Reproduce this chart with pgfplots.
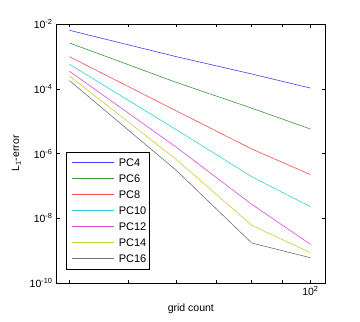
\documentclass[border=0pt]{standalone}
\usepackage{fontspec}
\setmainfont{Liberation Sans}
\usepackage{pgfplots}
\pgfplotsset{compat=1.18}
\definecolor{pcA}{rgb}{0.25,0.25,1}
\definecolor{pcB}{rgb}{0.22,0.6,0.22}
\definecolor{pcC}{rgb}{1,0.3,0.3}
\definecolor{pcD}{rgb}{0.2,0.82,0.82}
\definecolor{pcE}{rgb}{0.85,0.3,0.85}
\definecolor{pcF}{rgb}{0.8,0.8,0.2}
\definecolor{pcG}{rgb}{0.45,0.45,0.45}
\newcommand{\legent}[2]{\hspace{3pt}\textcolor{#1}{\rule[3.4pt]{42pt}{0.9pt}}\hspace{4.5pt}#2\hspace{6pt}}
\begin{document}
\begin{tikzpicture}
\useasboundingbox (0pt,0pt) rectangle (360pt,322pt);
\begin{axis}[
  at={(56pt,39pt)}, anchor=south west,
  scale only axis, width=269.7pt, height=259pt,
  xmode=log, ymode=log,
  xmin=38, xmax=106, ymin=1e-10, ymax=1e-2,
  xtick={100}, xticklabels={10\textsuperscript{2}},
  minor xtick={40,50,60,70,80,90},
  ytick={1e-10,1e-8,1e-6,1e-4,1e-2},
  yticklabels={10\textsuperscript{-10},10\textsuperscript{-8},10\textsuperscript{-6},10\textsuperscript{-4},10\textsuperscript{-2}},
  yminorticks=false,
  tick align=inside,
  major tick length=3.5pt, minor tick length=3pt,
  tick style={black, line width=0.5pt},
  axis line style={black, line width=0.8pt},
  tick label style={font=\fontsize{10.5}{12}\selectfont},
  label style={font=\fontsize{10.5}{12}\selectfont},
  xlabel={grid count}, ylabel={L\textsubscript{1}-error},
  xlabel style={yshift=-1pt},
  ylabel style={yshift=2pt},
  legend cell align=left,
  legend style={at={(0.037,0.505)}, anchor=north west, line width=0.6pt,
    font=\fontsize{11}{12}\selectfont, row sep=2.8pt, inner xsep=1pt, inner ysep=4pt,
    /tikz/every even column/.append style={column sep=0pt}},
  legend image code/.code={},
]
\addplot[color=pcA, line width=0.6pt] coordinates {(40,6.38e-3) (60,9.84e-4) (80,2.86e-4) (100,1.05e-4)};
\addlegendentry{\legent{pcA}{PC4}}
\addplot[color=pcB, line width=0.6pt] coordinates {(40,2.59e-3) (60,1.58e-4) (80,2.51e-5) (100,5.71e-6)};
\addlegendentry{\legent{pcB}{PC6}}
\addplot[color=pcC, line width=0.6pt] coordinates {(40,9.77e-4) (60,2.09e-5) (80,1.38e-6) (100,2.22e-7)};
\addlegendentry{\legent{pcC}{PC8}}
\addplot[color=pcD, line width=0.6pt] coordinates {(40,5.69e-4) (60,5.5e-6) (80,1.92e-7) (100,2.28e-8)};
\addlegendentry{\legent{pcD}{PC10}}
\addplot[color=pcE, line width=0.6pt] coordinates {(40,3.47e-4) (60,1.58e-6) (80,2.69e-8) (100,1.57e-9)};
\addlegendentry{\legent{pcE}{PC12}}
\addplot[color=pcF, line width=0.6pt] coordinates {(40,2.48e-4) (60,6.6e-7) (80,6.05e-9) (100,8.6e-10)};
\addlegendentry{\legent{pcF}{PC14}}
\addplot[color=pcG, line width=0.6pt] coordinates {(40,1.78e-4) (60,3.05e-7) (80,1.72e-9) (100,6.05e-10)};
\addlegendentry{\legent{pcG}{PC16}}
\end{axis}
\end{tikzpicture}
\end{document}
